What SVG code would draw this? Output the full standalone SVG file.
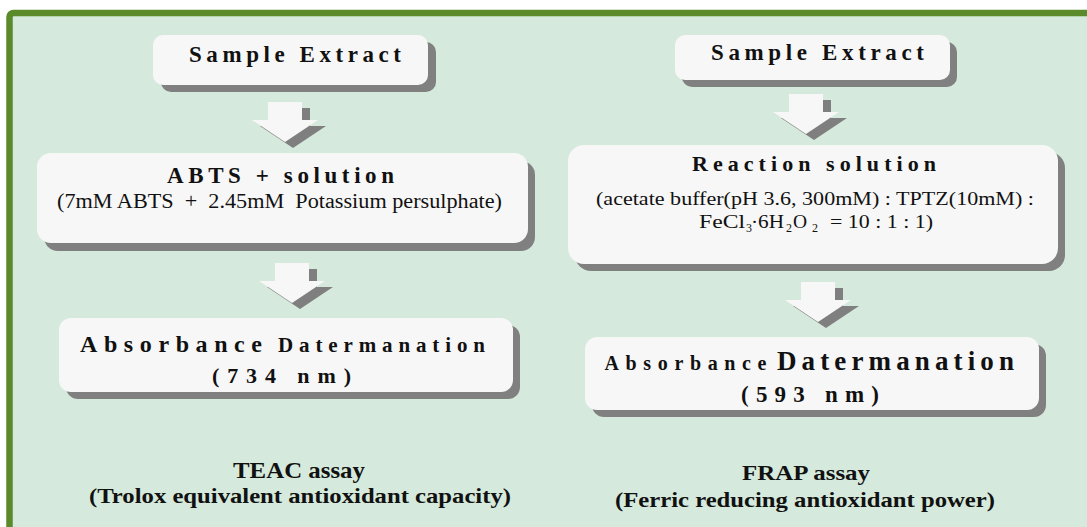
<svg xmlns="http://www.w3.org/2000/svg" width="1087" height="527" viewBox="0 0 1087 527">
<style>
.box{fill:#f7f7f7}
.sh{fill:#808080}
.b{font-family:"Liberation Serif","Times New Roman",serif;font-weight:bold;fill:#111}
.r{font-family:"Liberation Serif","Times New Roman",serif;fill:#111}
.arw{fill:#f7f7f7}
.arws{fill:#7f7f7f}
</style>
<defs>
<polygon id="arrow" points="-17,0 17,0 17,18 33,18 0,40 -33,18 -17,18"/>
</defs>
<rect x="0" y="0" width="1087" height="527" fill="#ffffff"/>
<rect x="9.5" y="13" width="1100" height="540" rx="4" fill="#d5eadc" stroke="#5a8a2a" stroke-width="6.5"/>

<g id="connectors">
  <g transform="translate(285,102)"><use href="#arrow" class="arws" transform="translate(8,6)"/><use href="#arrow" class="arw"/></g>
  <g transform="translate(292,263)"><use href="#arrow" class="arws" transform="translate(8,6)"/><use href="#arrow" class="arw"/></g>
  <g transform="translate(806,94)"><use href="#arrow" class="arws" transform="translate(8,6)"/><use href="#arrow" class="arw"/></g>
  <g transform="translate(818,282)"><use href="#arrow" class="arws" transform="translate(8,6)"/><use href="#arrow" class="arw"/></g>
</g>

<g id="teac-sample">
  <rect class="sh" x="161" y="42" width="275" height="50" rx="10"/>
  <rect class="box" x="153" y="35" width="275" height="50" rx="10"/>
  <text class="b" x="189" y="62" font-size="23" textLength="212" lengthAdjust="spacing">Sample Extract</text>
</g>

<g id="teac-abts">
  <rect class="sh" x="44" y="161" width="491" height="90" rx="14"/>
  <rect class="box" x="37" y="153" width="491" height="90" rx="14"/>
  <text class="b" x="167" y="183" font-size="23" textLength="227" lengthAdjust="spacing">ABTS + solution</text>
  <text class="r" x="57" y="208" font-size="20" textLength="445" lengthAdjust="spacingAndGlyphs">(7mM ABTS &#160;+ &#160;2.45mM &#160;Potassium persulphate)</text>
</g>

<g id="teac-absorbance">
  <rect class="sh" x="66" y="325" width="454" height="74" rx="12"/>
  <rect class="box" x="59" y="318" width="454" height="74" rx="12"/>
  <text class="b" x="80" y="352" font-size="24" textLength="182" lengthAdjust="spacing">Absorbance</text>
  <text class="b" x="278" y="352" font-size="21" textLength="207" lengthAdjust="spacing">Datermanation</text>
  <text class="b" x="212" y="383" font-size="22" textLength="139" lengthAdjust="spacing">(734 nm)</text>
</g>

<g id="teac-label">
  <text class="b" x="233" y="478" font-size="23" textLength="132" lengthAdjust="spacingAndGlyphs">TEAC assay</text>
  <text class="b" x="89" y="503" font-size="22" textLength="422" lengthAdjust="spacingAndGlyphs">(Trolox equivalent antioxidant capacity)</text>
</g>

<g id="frap-sample">
  <rect class="sh" x="682" y="42" width="275" height="45" rx="10"/>
  <rect class="box" x="675" y="35" width="275" height="45" rx="10"/>
  <text class="b" x="711" y="60" font-size="23" textLength="213" lengthAdjust="spacing">Sample Extract</text>
</g>

<g id="frap-reaction">
  <rect class="sh" x="575" y="152" width="490" height="119" rx="16"/>
  <rect class="box" x="568" y="145" width="490" height="119" rx="16"/>
  <text class="b" x="692" y="171" font-size="22" textLength="244" lengthAdjust="spacing">Reaction solution</text>
  <text class="r" x="596" y="205" font-size="19.5" textLength="438" lengthAdjust="spacingAndGlyphs">(acetate buffer(pH 3.6, 300mM) : TPTZ(10mM) :</text>
  <text class="r" y="228" font-size="19.5"><tspan x="699" textLength="46" lengthAdjust="spacingAndGlyphs">FeCl</tspan><tspan x="746" y="232" font-size="12">3</tspan><tspan x="751" y="228" textLength="33" lengthAdjust="spacingAndGlyphs">·6H</tspan><tspan x="786" y="232" font-size="12">2</tspan><tspan x="793" y="228">O</tspan><tspan x="812" y="232" font-size="12">2</tspan><tspan x="830" y="228" textLength="103" lengthAdjust="spacingAndGlyphs">= 10 : 1 : 1)</tspan></text>
</g>

<g id="frap-absorbance">
  <rect class="sh" x="592" y="344" width="454" height="73" rx="12"/>
  <rect class="box" x="585" y="337" width="454" height="73" rx="12"/>
  <text class="b" x="604.5" y="370" font-size="20" textLength="162" lengthAdjust="spacing">Absorbance</text>
  <text class="b" x="777" y="370" font-size="27" textLength="237" lengthAdjust="spacing">Datermanation</text>
  <text class="b" x="741" y="402" font-size="23" textLength="138" lengthAdjust="spacing">(593 nm)</text>
</g>

<g id="frap-label">
  <text class="b" x="742" y="480" font-size="22" textLength="128" lengthAdjust="spacingAndGlyphs">FRAP assay</text>
  <text class="b" x="615" y="507" font-size="22" textLength="380" lengthAdjust="spacingAndGlyphs">(Ferric reducing antioxidant power)</text>
</g>
</svg>
